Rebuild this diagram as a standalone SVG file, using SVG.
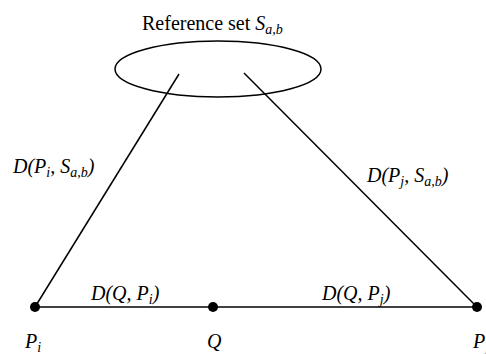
<svg xmlns="http://www.w3.org/2000/svg" width="486" height="354" viewBox="0 0 486 354">
<style>
.t{font-family:"Liberation Serif","Times New Roman",serif;font-size:20px;fill:#000}
.i{font-style:italic}
.s{font-size:14px;font-style:italic}
.ln{stroke:#000;stroke-width:1.5;fill:none}
.dot{fill:#000}
</style>
<rect width="486" height="354" fill="#fff"/>
<g id="refset">
<ellipse cx="218" cy="69" rx="103" ry="28" class="ln"/>
<text class="t" x="142" y="30">Reference set <tspan class="i">S</tspan><tspan class="s" dy="4">a,b</tspan></text>
</g>
<g id="connectors">
<line class="ln" x1="179" y1="74" x2="35" y2="307"/>
<line class="ln" x1="244" y1="73" x2="477" y2="307"/>
<line class="ln" x1="35" y1="307" x2="477" y2="307"/>
<text class="t i" x="13" y="173">D(P<tspan class="s" dy="4">i</tspan><tspan dy="-4">, S</tspan><tspan class="s" dy="4">a,b</tspan><tspan dy="-4">)</tspan></text>
<text class="t i" x="367" y="182">D(P<tspan class="s" dy="4">j</tspan><tspan dy="-4">, S</tspan><tspan class="s" dy="4">a,b</tspan><tspan dy="-4">)</tspan></text>
<text class="t i" x="91" y="300">D(Q, P<tspan class="s" dy="4">i</tspan><tspan dy="-4">)</tspan></text>
<text class="t i" x="322" y="300">D(Q, P<tspan class="s" dy="4">j</tspan><tspan dy="-4">)</tspan></text>
</g>
<g id="Pi">
<circle class="dot" cx="35" cy="307" r="5"/>
<text class="t i" x="25" y="348">P<tspan class="s" dy="4">i</tspan></text>
</g>
<g id="Q">
<circle class="dot" cx="213" cy="307" r="5"/>
<text class="t i" x="207" y="348">Q</text>
</g>
<g id="Pj">
<circle class="dot" cx="477" cy="307" r="5"/>
<text class="t i" x="473" y="348">P<tspan class="s" dy="4">j</tspan></text>
</g>
</svg>
